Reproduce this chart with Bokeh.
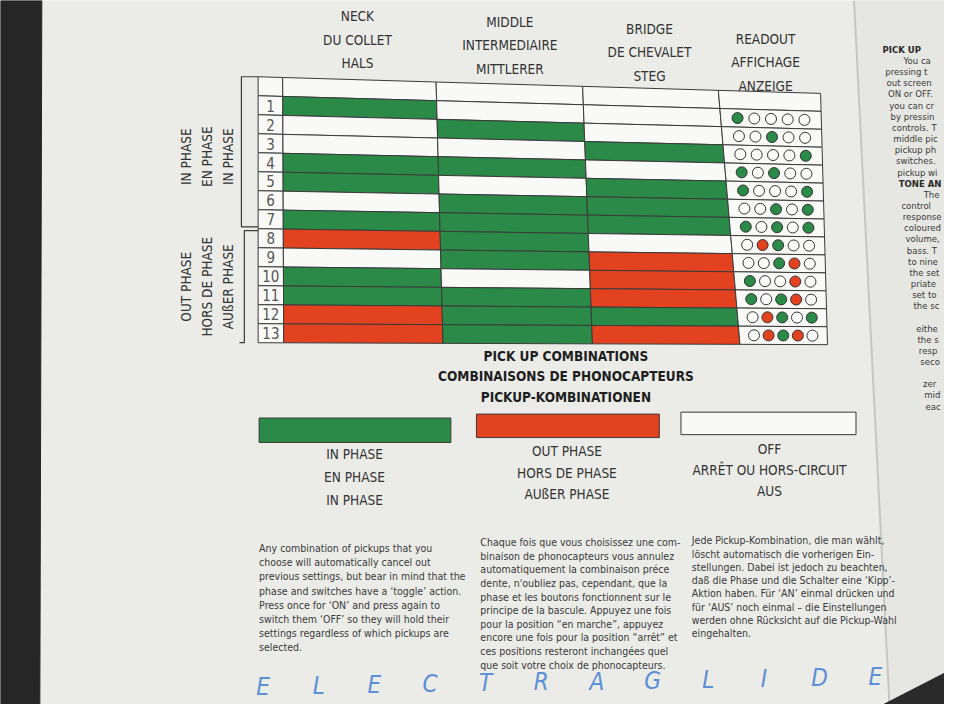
import numpy as np
from bokeh.plotting import figure
from bokeh.models import Range1d, ColumnDataSource
from bokeh.core.properties import value
from bokeh.embed import file_html
from bokeh.resources import INLINE

# ---------------- data ----------------
combo = list(range(1, 14))
# G = in phase, R = out of phase, W = off
neck   = ["G", "W", "W", "G", "G", "W", "G", "R", "W", "G", "G", "R", "R"]
middle = ["W", "G", "W", "G", "W", "G", "G", "G", "G", "W", "G", "G", "G"]
bridge = ["W", "W", "G", "W", "G", "G", "G", "W", "R", "R", "R", "G", "R"]
# readout lamps: neck-in, neck-out, middle, bridge-out, bridge-in
readout = ["G....", "..G..", "....G", "G.G..", "G...G", "..G.G", "G.G.G",
           ".RG..", "..GR.", "G..R.", "G.GR.", ".RG.G", ".RGR."]

column_titles = [["NECK", "DU COLLET", "HALS"],
                 ["MIDDLE", "INTERMEDIAIRE", "MITTLERER"],
                 ["BRIDGE", "DE CHEVALET", "STEG"],
                 ["READOUT", "AFFICHAGE", "ANZEIGE"]]
group_titles = [["IN PHASE", "EN PHASE", "IN PHASE"],
                ["OUT PHASE", "HORS DE PHASE", "AUßER PHASE"]]
group_rows = [(1, 7), (8, 13)]
chart_title = ["PICK UP COMBINATIONS", "COMBINAISONS DE PHONOCAPTEURS", "PICKUP-KOMBINATIONEN"]
legend_states = ["G", "R", "W"]
legend_labels = [["IN PHASE", "EN PHASE", "IN PHASE"],
                 ["OUT PHASE", "HORS DE PHASE", "AUßER PHASE"],
                 ["OFF", "ARRÊT OU HORS-CIRCUIT", "AUS"]]
text_en = ["Any combination of pickups that you",
           "choose will automatically cancel out",
           "previous settings, but bear in mind that the",
           "phase and switches have a \u2018toggle\u2019 action.",
           "Press once for \u2018ON\u2019 and press again to",
           "switch them \u2018OFF\u2019 so they will hold their",
           "settings regardless of which pickups are",
           "selected."]
text_fr = ["Chaque fois que vous choisissez une com-",
           "binaison de phonocapteurs vous annulez",
           "automatiquement la combinaison préce",
           "dente, n'oubliez pas, cependant, que la",
           "phase et les boutons fonctionnent sur le",
           "principe de la bascule. Appuyez une fois",
           "pour la position \u201cen marche\u201d, appuyez",
           "encore une fois pour la position \u201carrêt\u201d et",
           "ces positions resteront inchangées quel",
           "que soit votre choix de phonocapteurs."]
text_de = ["Jede Pickup-Kombination, die man wählt,",
           "löscht automatisch die vorherigen Ein-",
           "stellungen. Dabei ist jedoch zu beachten,",
           "daß die Phase und die Schalter eine \u2018Kipp\u2019-",
           "Aktion haben. Für \u2018AN\u2019 einmal drücken und",
           "für \u2018AUS\u2019 noch einmal \u2013 die Einstellungen",
           "werden ohne Rücksicht auf die Pickup-Wahl",
           "eingehalten."]
brand = "ELECTRAGLIDE"
# visible fragments of the facing page (cut by the photo's edge)
side_head = ["PICK UP", "TONE AN"]
side_head_line = [0, 12]
side_page = ["", "You ca", "pressing t", "out screen", "ON or OFF.",
             "you can cr", "by pressin", "controls. T", "middle pic", "pickup ph",
             "switches.", "pickup wi", "", "The", "control", "response",
             "coloured", "volume,", "bass. T", "to nine", "the set", "priate",
             "set to", "the sc", "", "eithe", "the s", "resp", "seco", "",
             "zer", "mid", "eac"]
side_indent = [0, 20, 0, 0, 0, 0, 0, 0, 0, 0, 0, 0, 0, 24, 0, 0, 0, 0, 0, 0, 0, 0, 0, 0,
               0, 0, 0, 0, 0, 0, 0, 0, 0]

# ---------------- style ----------------
SANS = value("'DejaVu Sans Condensed', 'Liberation Sans', sans-serif")
GREEN, RED, OFFW = "#2b8a48", "#e2421f", "#f9f9f7"
INK, PAPER = "#3a3a3a", "#ebebe8"
fill_of = {"G": GREEN, "R": RED, "W": OFFW, ".": "#fbfbf9"}

p = figure(width=944, height=704, x_range=Range1d(0, 960), y_range=Range1d(720, 0),
           output_backend="svg", toolbar_location=None, min_border=0,
           x_axis_type=None, y_axis_type=None)
p.grid.visible = False
p.outline_line_color = None
p.background_fill_color = PAPER
p.border_fill_color = PAPER

# page edge / fold
p.patch([0, 42, 40, 0], [0, 0, 720, 720], color="#262626")
p.patch([868, 960, 960, 904], [0, 0, 720, 720], color="#e6e6e2")
p.line([868, 904], [0, 720], color="#c6c6c2", line_width=2)
p.patch([898, 960, 960], [720, 720, 688], color="#2a2a2a")

# table geometry (photo is slightly in perspective)
top_edges = [262, 287, 443, 592, 730, 834]
bot_edges = [262, 288, 450, 602, 752, 841]
NV = 14  # header slot + 13 rows


def pt(kf, v):
    xt = np.interp(kf, range(6), top_edges)
    xb = np.interp(kf, range(6), bot_edges)
    t = (xt - 262) / 572.0
    yt, yb = 78 + 17 * t, 350 + 2 * t
    return xt + (xb - xt) * v / NV, yt + (yb - yt) * v / NV


def quad(k, v):
    c = [pt(k, v), pt(k + 1, v), pt(k + 1, v + 1), pt(k, v + 1)]
    return [q[0] for q in c], [q[1] for q in c]


xs, ys, fills = [], [], []
for k in range(5):
    x, y = quad(k, 0)
    xs.append(x); ys.append(y); fills.append(OFFW)
states = [neck, middle, bridge]
for i, r in enumerate(combo):
    for k in range(5):
        x, y = quad(k, r)
        xs.append(x); ys.append(y)
        if 1 <= k <= 3:
            fills.append(fill_of[states[k - 1][i]])
        else:
            fills.append(OFFW)
p.patches(xs="xs", ys="ys", fill_color="fills", line_color=INK, line_width=1,
          source=ColumnDataSource(dict(xs=xs, ys=ys, fills=fills)))

# row numbers
nx, ny = zip(*[pt(0.5, r + 0.5) for r in combo])
p.text(x=list(nx), y=list(ny), text=[str(r) for r in combo], text_font=SANS,
       text_font_size="15px", text_color="#555555", text_align="center",
       text_baseline="middle")

# readout lamps
dx, dy, dc = [], [], []
for i, r in enumerate(combo):
    for j, ch in enumerate(readout[i]):
        x, y = pt(4.5 + (j - 2) * 0.166, r + 0.5)
        dx.append(x); dy.append(y); dc.append(fill_of[ch])
p.scatter(dx, dy, size=11, fill_color=dc, line_color="#333333", line_width=1)

# column headings
head_x = [363, 518, 660, 778]
head_y0 = [16, 22, 29, 39]
hx, hy, ht = [], [], []
for c, lines in enumerate(column_titles):
    for j, s in enumerate(lines):
        hx.append(head_x[c]); hy.append(head_y0[c] + 24 * j); ht.append(s)
p.text(x=hx, y=hy, text=ht, text_font=SANS, text_font_size="13.5px", text_color="#333333",
       text_align="center", text_baseline="middle")

# group brackets + rotated labels
for g, (r0, r1) in enumerate(group_rows):
    v0 = 0 if g == 0 else r0
    v1 = r1 + 1
    x0 = 245 if g == 0 else 248
    _, ya = pt(0, v0)
    _, yb = pt(0, v1)
    ya = ya + (0 if g == 0 else 2)
    yb = yb - (2 if g == 0 else 0)
    p.line([262, x0, x0, 262 if g == 0 else 243], [ya, ya, yb, yb], color=INK, line_width=1.2)
    yc = (ya + yb) / 2 + (5 if g == 0 else 0)
    for j, s in enumerate(group_titles[g]):
        p.text(x=[189 + 21 * j], y=[yc], text=[s], text_font=SANS, text_font_size="13.5px",
               text_color="#333333", angle=np.pi / 2, text_align="center",
               text_baseline="middle")

# chart title
p.text(x=[575] * 3, y=[364, 384, 405], text=chart_title, text_font=SANS,
       text_font_size="13.5px", text_font_style="bold", text_color="#1e1e1e",
       text_align="center", text_baseline="middle")

# legend
lx0, lx1 = [263, 484, 692], [458, 670, 870]
lt, lb = [427, 423, 421], [452, 447, 444]
p.quad(left=lx0, right=lx1, top=lt, bottom=lb,
       fill_color=[fill_of[s] for s in legend_states], line_color=INK, line_width=1)
lab_x = [360, 576, 782]
lab_y0 = [464, 461, 459]
lab_dy = [23.5, 22, 21.5]
lxx, lyy, ltt = [], [], []
for c, lines in enumerate(legend_labels):
    for j, s in enumerate(lines):
        lxx.append(lab_x[c]); lyy.append(lab_y0[c] + lab_dy[c] * j); ltt.append(s)
p.text(x=lxx, y=lyy, text=ltt, text_font=SANS, text_font_size="13.5px", text_color="#333333",
       text_align="center", text_baseline="middle")

# paragraphs
for lines, x0, y0, dyl in [(text_en, 263, 560, 14.5), (text_fr, 488, 554, 13.9),
                           (text_de, 703, 552, 13.6)]:
    p.text(x=[x0] * len(lines), y=[y0 + dyl * j for j in range(len(lines))], text=lines,
           text_font=SANS, text_font_size="10.5px", text_color="#3a3a3a",
           text_align="left", text_baseline="middle")

# brand line
bx = [267 + 56.6 * j for j in range(len(brand))]
by = [702 - 10 * j / (len(brand) - 1) for j in range(len(brand))]
p.text(x=bx, y=by, text=list(brand), text_font=SANS,
       text_font_size="24px", text_font_style="italic", text_color="#5b8fd6",
       text_align="center", text_baseline="middle")

# facing page fragments
spx, spy, spt = [], [], []
for j, s in enumerate(side_page):
    if not s:
        continue
    y = 50 + 11.4 * j
    spx.append(897 + 0.12 * (y - 50) + side_indent[j]); spy.append(y); spt.append(s)
p.text(x=spx, y=spy, text=spt, text_font=SANS, text_font_size="9.5px",
       text_color="#3a3a3a", text_align="left", text_baseline="middle")
p.text(x=[897 + 0.12 * 11.4 * j for j in side_head_line],
       y=[50 + 11.4 * j for j in side_head_line],
       text=side_head, text_font=SANS, text_font_size="9.5px",
       text_font_style="bold", text_color="#2a2a2a", text_align="left",
       text_baseline="middle")

open("out.html", "w").write(file_html(p, INLINE))
